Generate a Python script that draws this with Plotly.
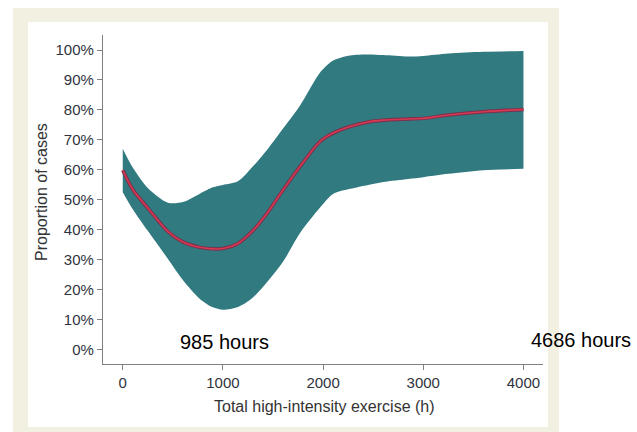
import plotly.graph_objects as go

# Data
hours = [0, 100, 250, 450, 600, 770, 900, 1000, 1150, 1300, 1450, 1600, 1770,
         1970, 2100, 2270, 2450, 2600, 2850, 3000, 3250, 3600, 4000]
upper = [67.1, 60.8, 54.0, 49.1, 49.3, 52.1, 54.2, 55.0, 56.2, 61.2, 67.1, 73.8, 81.5,
         92.5, 96.5, 98.2, 98.5, 98.3, 97.8, 98.0, 98.8, 99.4, 99.7]
lower = [52.6, 46.9, 39.7, 30.4, 23.3, 17.0, 14.2, 13.4, 14.3, 17.5, 23.0, 29.4, 39.0,
         47.5, 52.0, 53.7, 55.0, 56.0, 57.0, 57.6, 58.7, 59.9, 60.4]
center = [59.9, 53.5, 47.3, 39.5, 36.0, 34.2, 33.7, 33.8, 35.5, 39.8, 46.0, 53.3, 61.2,
          69.5, 72.3, 74.5, 76.0, 76.6, 77.0, 77.2, 78.3, 79.4, 80.2]
x_ticks = [0, 1000, 2000, 3000, 4000]
y_ticks = [0, 10, 20, 30, 40, 50, 60, 70, 80, 90, 100]
y_tick_text = ["0%", "10%", "20%", "30%", "40%", "50%", "60%", "70%", "80%", "90%", "100%"]
labels = ["985 hours", "4686 hours"]

FONT = "Liberation Sans, Arial, Helvetica, sans-serif"
TEAL = "#307a80"

fig = go.Figure()
fig.add_trace(go.Scatter(x=hours, y=lower, mode="lines", line=dict(width=0, color=TEAL, shape="spline", smoothing=0.8),
                         showlegend=False, hoverinfo="skip"))
fig.add_trace(go.Scatter(x=hours, y=upper, mode="lines", line=dict(width=0, color=TEAL, shape="spline", smoothing=0.8),
                         fill="tonexty", fillcolor=TEAL, showlegend=False, hoverinfo="skip"))
fig.add_trace(go.Scatter(x=hours, y=center, mode="lines",
                         line=dict(width=3.5, color="#7d2e4c", shape="spline", smoothing=0.8),
                         showlegend=False, hoverinfo="skip"))
fig.add_trace(go.Scatter(x=hours, y=center, mode="lines",
                         line=dict(width=1.6, color="#d63a52", shape="spline", smoothing=0.8),
                         showlegend=False, hoverinfo="skip"))

# plot area: x 103..543, y 35..364 px
L, R, T, B = 103, 543, 35, 364
W, H = R - L, B - T

def px(x):
    return (x - L) / W

def py(y):
    return (B - y) / H

shapes = [
    dict(type="rect", xref="paper", yref="paper", x0=px(13), x1=px(559), y0=py(445), y1=py(8),
         fillcolor="#f2f0e1", line=dict(width=0), layer="below"),
    dict(type="rect", xref="paper", yref="paper", x0=px(28), x1=px(548), y0=py(427), y1=py(22),
         fillcolor="white", line=dict(width=0), layer="below"),
]

annotations = [
    dict(text=labels[0], xref="paper", yref="paper", x=px(224), y=py(342), showarrow=False,
         xanchor="center", yanchor="middle", font=dict(family=FONT, size=20, color="black")),
    dict(text=labels[1], xref="paper", yref="paper", x=px(581), y=py(340), showarrow=False,
         xanchor="center", yanchor="middle", font=dict(family=FONT, size=20, color="black")),
    dict(text="Total high-intensity exercise (h)", xref="paper", yref="paper", x=px(324), y=py(406),
         showarrow=False, xanchor="center", yanchor="middle", font=dict(family=FONT, size=16, color="#333333")),
    dict(text="Proportion of cases", xref="paper", yref="paper", x=px(41), y=py(192), textangle=-90,
         showarrow=False, xanchor="center", yanchor="middle", font=dict(family=FONT, size=16, color="#333333")),
]

fig.update_layout(
    width=637, height=432,
    margin=dict(l=L, r=637 - R, t=T, b=432 - B),
    paper_bgcolor="white", plot_bgcolor="rgba(0,0,0,0)",
    shapes=shapes, annotations=annotations,
    xaxis=dict(range=[-197, 4195], tickvals=x_ticks, ticks="outside", ticklen=5, tickcolor="#808080",
               showline=True, linecolor="#808080", linewidth=1.2, showgrid=False, zeroline=False,
               tickfont=dict(family=FONT, size=15, color="#2f3340")),
    yaxis=dict(range=[-4.7, 105], tickvals=y_ticks, ticktext=y_tick_text, ticks="outside", ticklen=5,
               tickcolor="#808080", showline=True, linecolor="#808080", linewidth=1.2, showgrid=False,
               zeroline=False, tickfont=dict(family=FONT, size=15, color="#2f3340")),
)

fig.write_html("out.html")
